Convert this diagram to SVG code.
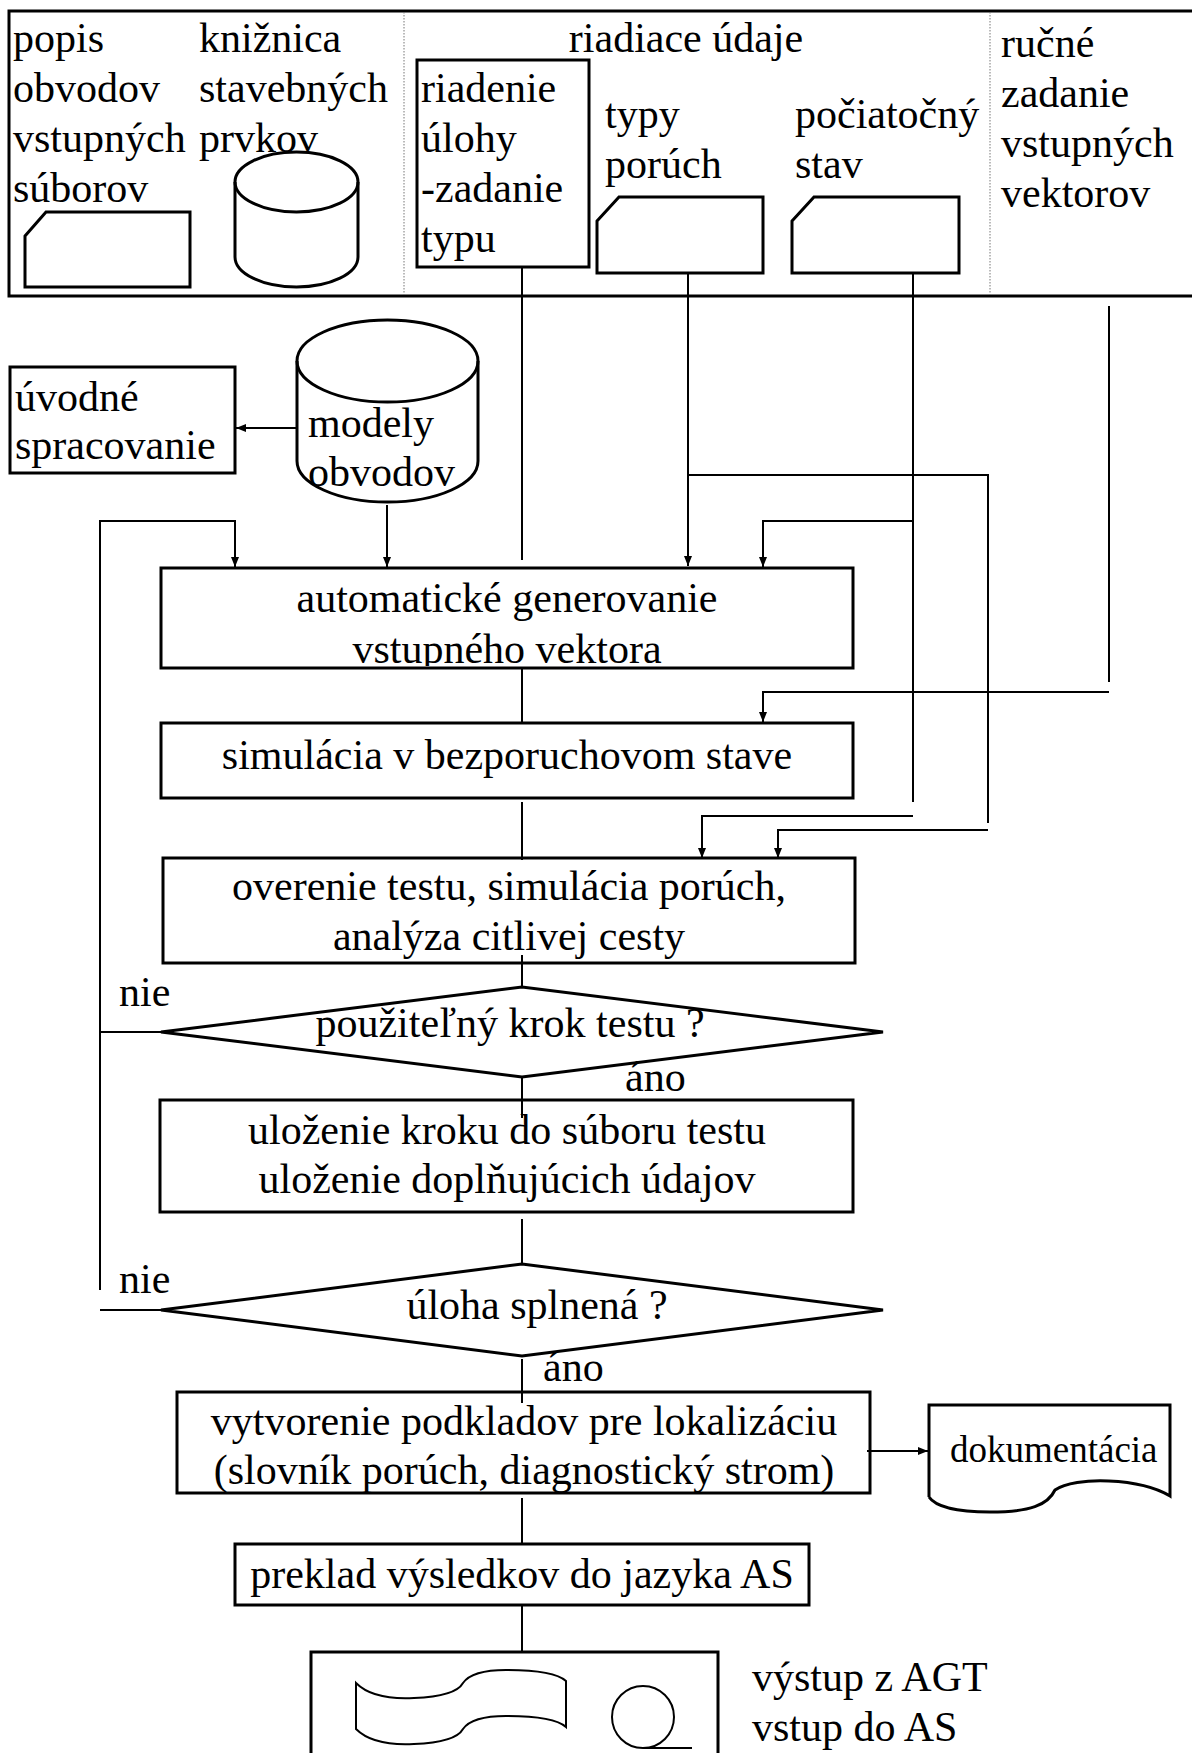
<svg xmlns="http://www.w3.org/2000/svg" width="1192" height="1753" viewBox="0 0 1192 1753">
<style>
.s{fill:none;stroke:#000;stroke-width:3}
.c{fill:none;stroke:#000;stroke-width:2}
.d{fill:none;stroke:#777;stroke-width:1;stroke-dasharray:1.5 1.5}
text{font-family:"Liberation Serif","Times New Roman",serif;font-size:42px;fill:#000}
.m{text-anchor:middle}
</style>
<defs>
<marker id="a" markerUnits="userSpaceOnUse" markerWidth="10" markerHeight="10" refX="10" refY="5" orient="auto">
<path d="M0,1 L10,5 L0,9 z" fill="#000"/>
</marker>
<clipPath id="cA"><rect x="161" y="568" width="692" height="98"/></clipPath>
<clipPath id="cO"><rect x="163" y="858" width="692" height="103"/></clipPath>
<clipPath id="cV"><rect x="177" y="1392" width="693" height="100"/></clipPath>
</defs>
<rect width="1192" height="1753" fill="#fff"/>

<g id="top-panel">
<path class="s" d="M1192,11 H9 V296 H1192"/>
<line class="d" x1="404" y1="12" x2="404" y2="295"/>
<line class="d" x1="990" y1="12" x2="990" y2="295"/>
</g>

<g id="popis">
<text x="13" y="52">popis</text>
<text x="13" y="102">obvodov</text>
<text x="13" y="152">vstupných</text>
<text x="13" y="202">súborov</text>
<path class="s" d="M25,236 L46,212 H190 V287 H25 Z"/>
</g>

<g id="kniznica">
<text x="199" y="52">knižnica</text>
<text x="199" y="102">stavebných</text>
<text x="199" y="152">prvkov</text>
<ellipse class="s" cx="296.5" cy="182" rx="61.5" ry="30"/>
<path class="s" d="M235,182 V257 A61.5,30 0 0 0 358,257 V182"/>
</g>

<g id="riadiace-udaje">
<text class="m" x="686" y="52">riadiace údaje</text>
</g>

<g id="riadenie">
<rect class="s" x="417" y="60" width="172" height="207"/>
<text x="421" y="102">riadenie</text>
<text x="421" y="152">úlohy</text>
<text x="421" y="202">-zadanie</text>
<text x="421" y="252">typu</text>
</g>

<g id="typy-poruch">
<text x="605" y="128">typy</text>
<text x="605" y="178">porúch</text>
<path class="s" d="M597,221 L619,197 H763 V273 H597 Z"/>
</g>

<g id="pociatocny-stav">
<text x="795" y="128">počiatočný</text>
<text x="795" y="178">stav</text>
<path class="s" d="M792,221 L814,197 H959 V273 H792 Z"/>
</g>

<g id="rucne-zadanie">
<text x="1001" y="57">ručné</text>
<text x="1001" y="107">zadanie</text>
<text x="1001" y="157">vstupných</text>
<text x="1001" y="207">vektorov</text>
</g>

<g id="uvodne">
<rect class="s" x="10" y="367" width="225" height="106"/>
<text x="15" y="411">úvodné</text>
<text x="15" y="459">spracovanie</text>
</g>

<g id="modely">
<ellipse class="s" cx="387.5" cy="361" rx="90.5" ry="41"/>
<path class="s" d="M297,361 V461 A90.5,41 0 0 0 478,461 V361"/>
<text x="308" y="437">modely</text>
<text x="308" y="486">obvodov</text>
</g>

<g id="auto-gen">
<rect class="s" x="161" y="568" width="692" height="100"/>
<g clip-path="url(#cA)">
<text class="m" x="507" y="612">automatické generovanie</text>
<text class="m" x="507" y="663">vstupného vektora</text>
</g>
</g>

<g id="simulacia">
<rect class="s" x="161" y="723" width="692" height="75"/>
<text class="m" x="507" y="769">simulácia v bezporuchovom stave</text>
</g>

<g id="overenie">
<rect class="s" x="163" y="858" width="692" height="105"/>
<g clip-path="url(#cO)">
<text class="m" x="509" y="900">overenie testu, simulácia porúch,</text>
<text class="m" x="509" y="950">analýza citlivej cesty</text>
</g>
</g>

<g id="decision-1">
<path class="s" d="M161,1032 L522,987 L883,1032 L522,1077 Z"/>
<text class="m" x="510" y="1037">použiteľný krok testu ?</text>
</g>

<g id="ulozenie">
<rect class="s" x="160" y="1100" width="693" height="112"/>
<text class="m" x="507" y="1144">uloženie kroku do súboru testu</text>
<text class="m" x="507" y="1193">uloženie doplňujúcich údajov</text>
</g>

<g id="decision-2">
<path class="s" d="M161,1310 L522,1264 L883,1310 L522,1356 Z"/>
<text class="m" x="537" y="1319">úloha splnená ?</text>
</g>

<g id="vytvorenie">
<rect class="s" x="177" y="1392" width="693" height="101"/>
<g clip-path="url(#cV)">
<text class="m" x="524" y="1435">vytvorenie podkladov pre lokalizáciu</text>
<text class="m" x="524" y="1484">(slovník porúch, diagnostický strom)</text>
</g>
</g>

<g id="dokumentacia">
<path class="s" d="M929,1497 V1405 H1170 V1496 C1140,1478 1075,1476 1055,1490 C1048,1505 1030,1512 990,1512 C955,1512 935,1506 929,1497"/>
<text x="950" y="1462" style="font-size:37px">dokumentácia</text>
</g>

<g id="preklad">
<rect class="s" x="235" y="1544" width="574" height="61"/>
<text class="m" x="522" y="1588">preklad výsledkov do jazyka AS</text>
</g>

<g id="vystup">
<path class="s" d="M311,1753 V1652 H718 V1753"/>
<path class="c" d="M356,1683 C370,1697 395,1699 414,1698 C440,1697 458,1692 463,1683 C470,1673 488,1670 506,1670 C530,1670 556,1672 566,1681 V1727 C556,1718 530,1716 506,1716 C488,1716 470,1719 463,1729 C458,1738 440,1743 414,1744 C395,1745 370,1743 356,1729 Z"/>
<circle class="c" cx="643" cy="1717" r="31"/>
<line class="c" x1="643" y1="1748" x2="692" y2="1748"/>
<text x="752" y="1691">výstup z AGT</text>
<text x="752" y="1741">vstup do AS</text>
</g>

<g id="labels">
<text x="119" y="1006">nie</text>
<text x="625" y="1091">áno</text>
<text x="119" y="1293">nie</text>
<text x="543" y="1381">áno</text>
</g>

<g id="connectors">
<path class="c" d="M297,428 H236" marker-end="url(#a)"/>
<path class="c" d="M387,505 V567" marker-end="url(#a)"/>
<path class="c" d="M100,1290 V521 H235 V567" marker-end="url(#a)"/>
<path class="c" d="M100,1032 H161"/>
<path class="c" d="M100,1310 H161"/>
<path class="c" d="M522,268 V560"/>
<path class="c" d="M688,273 V566" marker-end="url(#a)"/>
<path class="c" d="M688,475 H988 V823"/>
<path class="c" d="M988,830 H778 V858" marker-end="url(#a)"/>
<path class="c" d="M913,273 V802"/>
<path class="c" d="M913,521 H763 V567" marker-end="url(#a)"/>
<path class="c" d="M913,816 H702 V858" marker-end="url(#a)"/>
<path class="c" d="M1109,306 V682"/>
<path class="c" d="M1109,692 H763 V722" marker-end="url(#a)"/>
<path class="c" d="M522,668 V723"/>
<path class="c" d="M522,802 V860"/>
<path class="c" d="M522,955 V987"/>
<path class="c" d="M522,1077 V1118"/>
<path class="c" d="M522,1219 V1264"/>
<path class="c" d="M522,1359 V1403"/>
<path class="c" d="M867,1451 H928" marker-end="url(#a)"/>
<path class="c" d="M522,1498 V1544"/>
<path class="c" d="M522,1605 V1652"/>
</g>
</svg>
